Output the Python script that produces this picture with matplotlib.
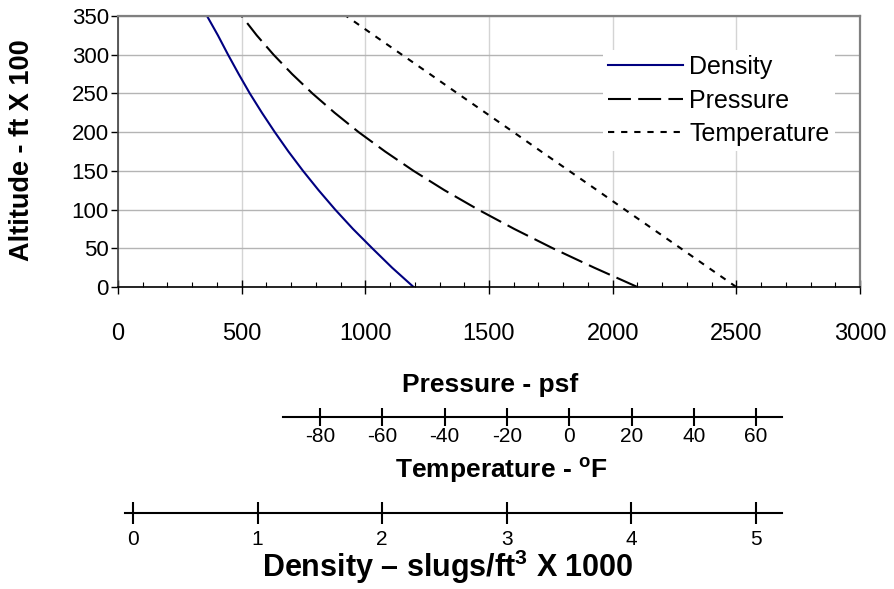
import matplotlib.pyplot as plt
from matplotlib.ticker import MultipleLocator

plt.rcParams['font.family'] = ['Liberation Sans', 'DejaVu Sans']
plt.rcParams['mathtext.fontset'] = 'custom'
plt.rcParams['mathtext.rm'] = 'Liberation Sans'
plt.rcParams['mathtext.bf'] = 'Liberation Sans:bold'
plt.rcParams['axes.unicode_minus'] = False

# altitude in ft x 100, curves read in pressure-axis units (psf scale)
altitude = [0, 25, 50, 75, 100, 125, 150, 175, 200, 225, 250, 275, 300, 325, 350]
density = [1195, 1108, 1028, 950, 878, 811, 748, 689, 634, 582, 533, 488, 445, 404, 360]
pressure = [2100, 1925, 1758, 1602, 1456, 1320, 1195, 1080, 973, 876, 786, 704, 629, 561, 500]
temperature = [2500, 2387, 2275, 2162, 2049, 1937, 1824, 1711, 1599, 1486, 1373, 1261, 1148, 1035, 923]

pressure_ticks = [0, 500, 1000, 1500, 2000, 2500, 3000]
alt_ticks = [0, 50, 100, 150, 200, 250, 300, 350]
temp_ticks = [-80, -60, -40, -20, 0, 20, 40, 60]
dens_ticks = [0, 1, 2, 3, 4, 5]

W, H = 894, 589
fig = plt.figure(figsize=(W / 100, H / 100), dpi=100)


def box(x0, y0, x1, y1):
    # pixel box -> figure fraction
    return [x0 / W, 1 - y1 / H, (x1 - x0) / W, (y1 - y0) / H]


ax = fig.add_axes(box(118, 16, 860, 287))
ax.plot(density, altitude, color='#000080', lw=1.5, label='Density')
ax.plot(pressure, altitude, color='black', lw=1.5, ls=(0, (11, 3.5)), label='Pressure')
ax.plot(temperature, altitude, color='black', lw=1.5, ls=(0, (3, 3.3)), label='Temperature')

ax.set_xlim(0, 3000)
ax.set_ylim(0, 350)
ax.set_xticks(pressure_ticks)
ax.set_yticks(alt_ticks)
ax.xaxis.set_minor_locator(MultipleLocator(100))
ax.tick_params(axis='x', which='major', direction='inout', length=9.5, width=1, labelsize=17, pad=21)
ax.tick_params(axis='x', which='minor', direction='in', length=3.6, width=0.8)
ax.tick_params(axis='y', direction='out', length=5, width=1, labelsize=16, pad=1.5)
ax.yaxis.grid(True, color='#b4b4b4', lw=1)
ax.xaxis.grid(True, which='major', color='#d4d4d4', lw=1)
ax.set_axisbelow(True)
for s in ['top', 'right']:
    ax.spines[s].set_color('#808080')
    ax.spines[s].set_linewidth(1.6)
ax.spines['left'].set_color('#404040')
ax.spines['left'].set_linewidth(1.2)
ax.spines['bottom'].set_linewidth(1.2)

leg = ax.legend(loc='upper left', bbox_to_anchor=((603 - 118) / 742, 1 - (50 - 16) / 271),
                borderaxespad=0, fontsize=18, frameon=True, fancybox=False,
                handlelength=3.0, handletextpad=0.25, labelspacing=0.38, borderpad=0.2)
leg.get_frame().set_edgecolor('none')
leg.get_frame().set_facecolor('white')
leg.get_frame().set_alpha(1)

fig.text(22 / W, 1 - 150 / H, 'Altitude - ft X 100', rotation=90, ha='center', va='center',
         fontsize=19.5, fontweight='bold')
fig.text(490 / W, 1 - 385 / H, 'Pressure - psf', ha='center', va='center',
         fontsize=19, fontweight='bold')

# temperature scale
axt = fig.add_axes([283 / W, 1 - 417 / H, 499 / W, 0.0001])
axt.set_xlim(-91.9, 68.3)
axt.set_xticks(temp_ticks)
axt.set_yticks([])
axt.tick_params(axis='x', direction='inout', length=13, width=1.5, labelsize=15, pad=1)
for s in ['top', 'left', 'right']:
    axt.spines[s].set_visible(False)
axt.spines['bottom'].set_linewidth(1.5)
axt.patch.set_visible(False)
fig.text(501 / W, 1 - 470 / H, r'Temperature - $^{\mathbf{o}}$F', ha='center', va='center',
         fontsize=19, fontweight='bold')

# density scale
axd = fig.add_axes([125 / W, 1 - 513 / H, 657 / W, 0.0001])
axd.set_xlim(-0.064, 5.209)
axd.set_xticks(dens_ticks)
axd.set_yticks([])
axd.tick_params(axis='x', direction='inout', length=16, width=1.5, labelsize=15, pad=4)
for s in ['top', 'left', 'right']:
    axd.spines[s].set_visible(False)
axd.spines['bottom'].set_linewidth(1.5)
axd.patch.set_visible(False)
fig.text(448 / W, 1 - 567 / H, r'Density – slugs/ft$^{\mathbf{3}}$ X 1000', ha='center', va='center',
         fontsize=22, fontweight='bold')

fig.savefig('out.png', dpi=100)
